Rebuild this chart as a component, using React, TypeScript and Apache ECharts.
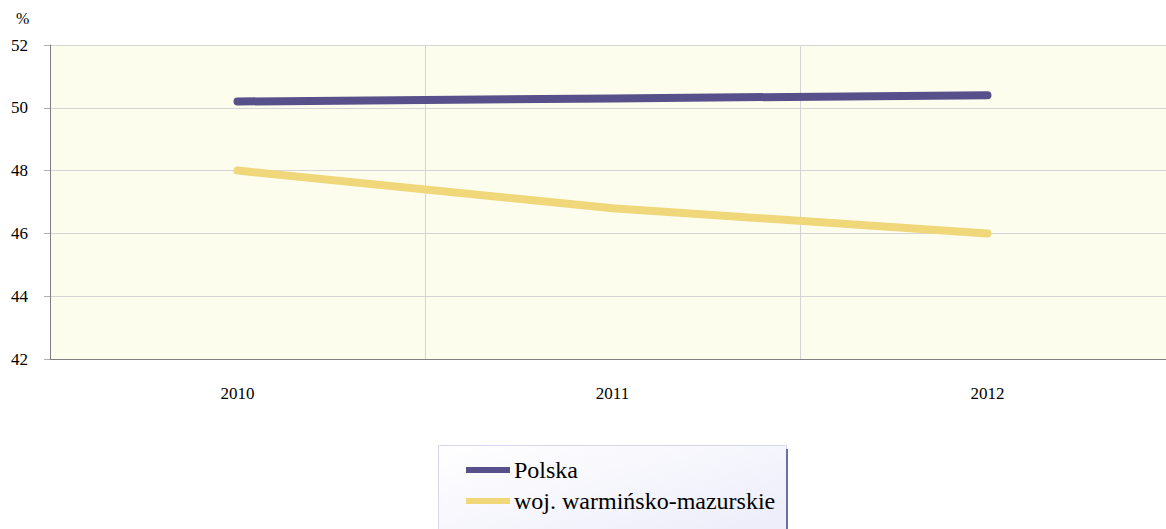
import React, { useEffect, useRef } from "react";
import * as echarts from "echarts";

const categories = ["2010", "2011", "2012"];
const polska = [50.2, 50.3, 50.4];
const warminsko = [48.0, 46.8, 46.0];
const seriesNames = ["Polska", "woj. warmińsko-mazurskie"];
const seriesColors = ["#58508a", "#f0d77a"];
const yMin = 42;
const yMax = 52;
const yInterval = 2;

const FONT = "'Liberation Serif', 'Times New Roman', serif";

export default function App() {
  const ref = useRef<HTMLDivElement>(null);
  useEffect(() => {
    if (!ref.current) return;
    const chart = echarts.init(ref.current, undefined, { renderer: "svg" });
    chart.setOption({
      animation: false,
      backgroundColor: "#ffffff",
      grid: {
        left: 50,
        right: 5,
        top: 45,
        height: 314,
        show: true,
        backgroundColor: "#fdfdee",
        borderWidth: 0,
      },
      xAxis: {
        type: "category",
        data: categories,
        boundaryGap: true,
        axisLine: { show: true, lineStyle: { color: "#808080", width: 1 } },
        axisTick: { show: false },
        axisLabel: {
          color: "#000",
          fontFamily: FONT,
          fontSize: 17,
          margin: 26,
        },
        splitLine: { show: true, lineStyle: { color: "#d4d4d4", width: 1 } },
      },
      yAxis: {
        type: "value",
        min: yMin,
        max: yMax,
        interval: yInterval,
        axisLine: { show: true, lineStyle: { color: "#808080", width: 1 } },
        axisTick: { show: true, length: 6, lineStyle: { color: "#b0b0b0" } },
        axisLabel: {
          color: "#000",
          fontFamily: FONT,
          fontSize: 17,
          margin: 22,
        },
        splitLine: { show: true, lineStyle: { color: "#d4d4d4", width: 1 } },
      },
      legend: {
        orient: "vertical",
        left: 466,
        top: 458,
        padding: 0,
        z: 10,
        itemWidth: 44,
        itemHeight: 6,
        itemGap: 7,
        icon: "rect",
        textStyle: { color: "#000", fontFamily: FONT, fontSize: 24, padding: [0, 0, 0, -1] },
        data: seriesNames,
      },
      graphic: [
        {
          type: "rect",
          z: 1,
          shape: { x: 438.5, y: 445.5, width: 348, height: 100 },
          style: {
            fill: new echarts.graphic.LinearGradient(0, 0, 1, 1, [
              { offset: 0, color: "#ffffff" },
              { offset: 1, color: "#ebebfa" },
            ]),
            stroke: "#d6d6f0",
            lineWidth: 1,
          },
        },
        {
          type: "line",
          z: 2,
          shape: { x1: 787, y1: 449, x2: 787, y2: 529 },
          style: { stroke: "#6e6ea0", lineWidth: 2 },
        },
        {
          type: "text",
          left: 16,
          top: 10,
          style: { text: "%", fill: "#000", font: `16px ${FONT}` },
        },
      ],
      series: [
        {
          name: seriesNames[0],
          type: "line",
          data: polska,
          showSymbol: false,
          color: seriesColors[0],
          lineStyle: { color: seriesColors[0], width: 8, cap: "round" },
        },
        {
          name: seriesNames[1],
          type: "line",
          data: warminsko,
          showSymbol: false,
          color: seriesColors[1],
          lineStyle: { color: seriesColors[1], width: 8, cap: "round" },
        },
      ],
    });
    return () => chart.dispose();
  }, []);
  return (
    <div
      ref={ref}
      style={{ position: "fixed", left: 0, top: 0, width: 1180, height: 529 }}
    />
  );
}
